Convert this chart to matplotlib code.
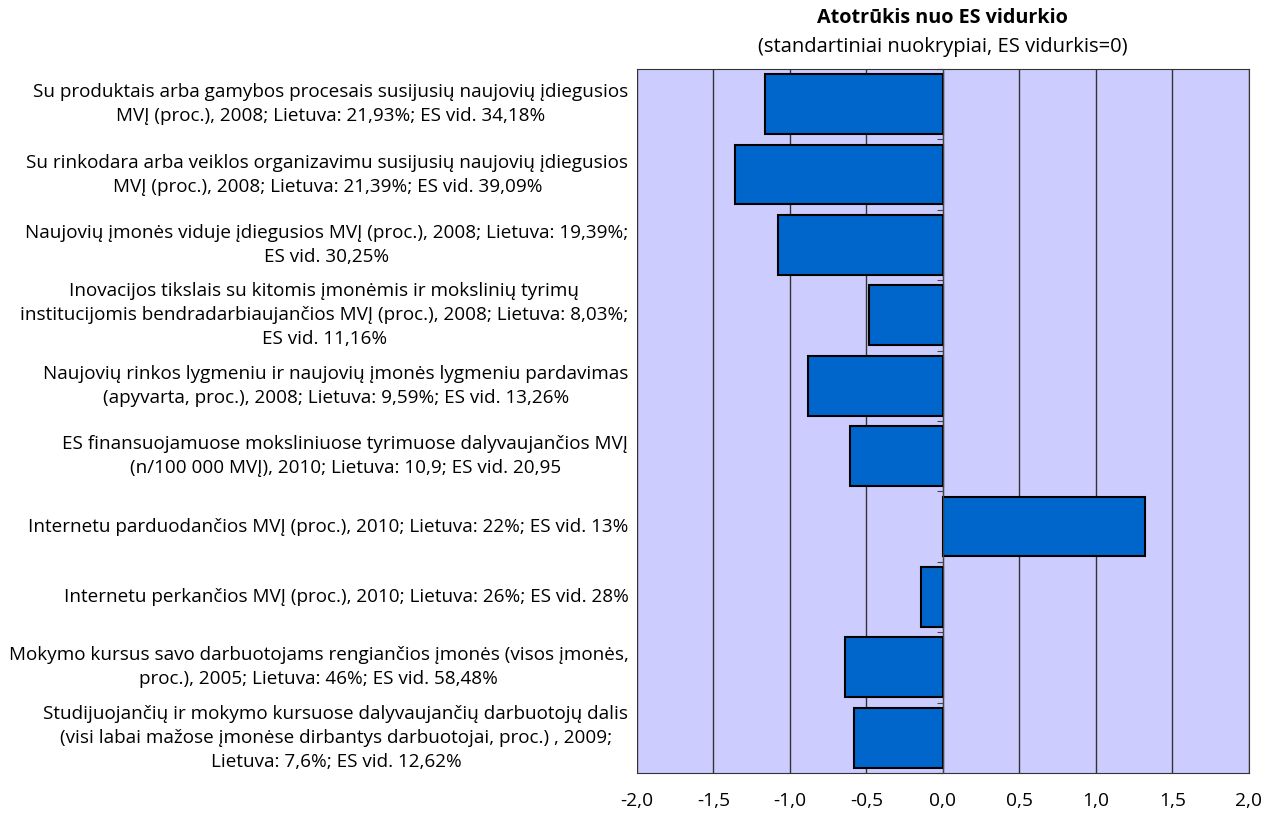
import matplotlib.pyplot as plt
import numpy as np

# Category labels (top to bottom)
labels = [
    "Su produktais arba gamybos procesais susijusių naujovių įdiegusios\nMVĮ (proc.), 2008; Lietuva: 21,93%; ES vid. 34,18%",
    "Su rinkodara arba veiklos organizavimu susijusių naujovių įdiegusios\nMVĮ (proc.), 2008; Lietuva: 21,39%; ES vid. 39,09%",
    "Naujovių įmonės viduje įdiegusios MVĮ (proc.), 2008; Lietuva: 19,39%;\nES vid. 30,25%",
    "Inovacijos tikslais su kitomis įmonėmis ir mokslinių tyrimų\ninstitucijomis bendradarbiaujančios MVĮ (proc.), 2008; Lietuva: 8,03%;\nES vid. 11,16%",
    "Naujovių rinkos lygmeniu ir naujovių įmonės lygmeniu pardavimas\n(apyvarta, proc.), 2008; Lietuva: 9,59%; ES vid. 13,26%",
    "ES finansuojamuose moksliniuose tyrimuose dalyvaujančios MVĮ\n(n/100 000 MVĮ), 2010; Lietuva: 10,9; ES vid. 20,95",
    "Internetu parduodančios MVĮ (proc.), 2010; Lietuva: 22%; ES vid. 13%",
    "Internetu perkančios MVĮ (proc.), 2010; Lietuva: 26%; ES vid. 28%",
    "Mokymo kursus savo darbuotojams rengiančios įmonės (visos įmonės,\nproc.), 2005; Lietuva: 46%; ES vid. 58,48%",
    "Studijuojančių ir mokymo kursuose dalyvaujančių darbuotojų dalis\n(visi labai mažose įmonėse dirbantys darbuotojai, proc.) , 2009;\nLietuva: 7,6%; ES vid. 12,62%",
]

# Deviation from EU average (standard deviations)
values = [-1.16, -1.36, -1.08, -0.48, -0.88, -0.61, 1.32, -0.14, -0.64, -0.58]

x_ticks = [-2.0, -1.5, -1.0, -0.5, 0.0, 0.5, 1.0, 1.5, 2.0]

plt.rcParams['font.family'] = ['Open Sans', 'DejaVu Sans']

fig = plt.figure(figsize=(12.69, 8.21), dpi=100)
ax = fig.add_axes([0.502, 0.0585, 0.482, 0.8575])
ax.set_facecolor('#CCCCFF')

pos = np.arange(len(values))
ax.barh(pos, values, height=0.85, color='#0066CC', edgecolor='black',
        linewidth=1.5, zorder=3)

ax.set_xlim(-2, 2)
ax.set_ylim(len(values) - 0.5, -0.5)

# vertical gridlines
ax.set_xticks(x_ticks)
ax.set_xticklabels([f"{t:.1f}".replace('.', ',') for t in x_ticks], fontsize=13.8)
ax.tick_params(axis='x', length=0, pad=14)
ax.grid(axis='x', color='#333333', linewidth=1, zorder=1)

# category axis sits at zero
ax.spines['left'].set_position(('data', 0))
ax.spines['left'].set_color('#444444')
ax.spines['left'].set_zorder(4)
ax.set_yticks(np.arange(len(values) + 1) - 0.5)
ax.set_yticklabels([])
ax.tick_params(axis='y', length=4, direction='out', color='#444444')
for s in ['top', 'bottom', 'right']:
    ax.spines[s].set_color('#333333')

for i, lab in enumerate(labels):
    ax.text(-0.014, i, lab, transform=ax.get_yaxis_transform(),
            ha='right', va='center', multialignment='center',
            fontsize=13.6, linespacing=1.42)

fig.text(0.743, 0.978, "Atotrūkis nuo ES vidurkio", ha='center', va='center',
         fontsize=14.2, fontweight='bold')
fig.text(0.743, 0.943, "(standartiniai nuokrypiai, ES vidurkis=0)",
         ha='center', va='center', fontsize=14.5)

fig.savefig('out.png', dpi=100)
